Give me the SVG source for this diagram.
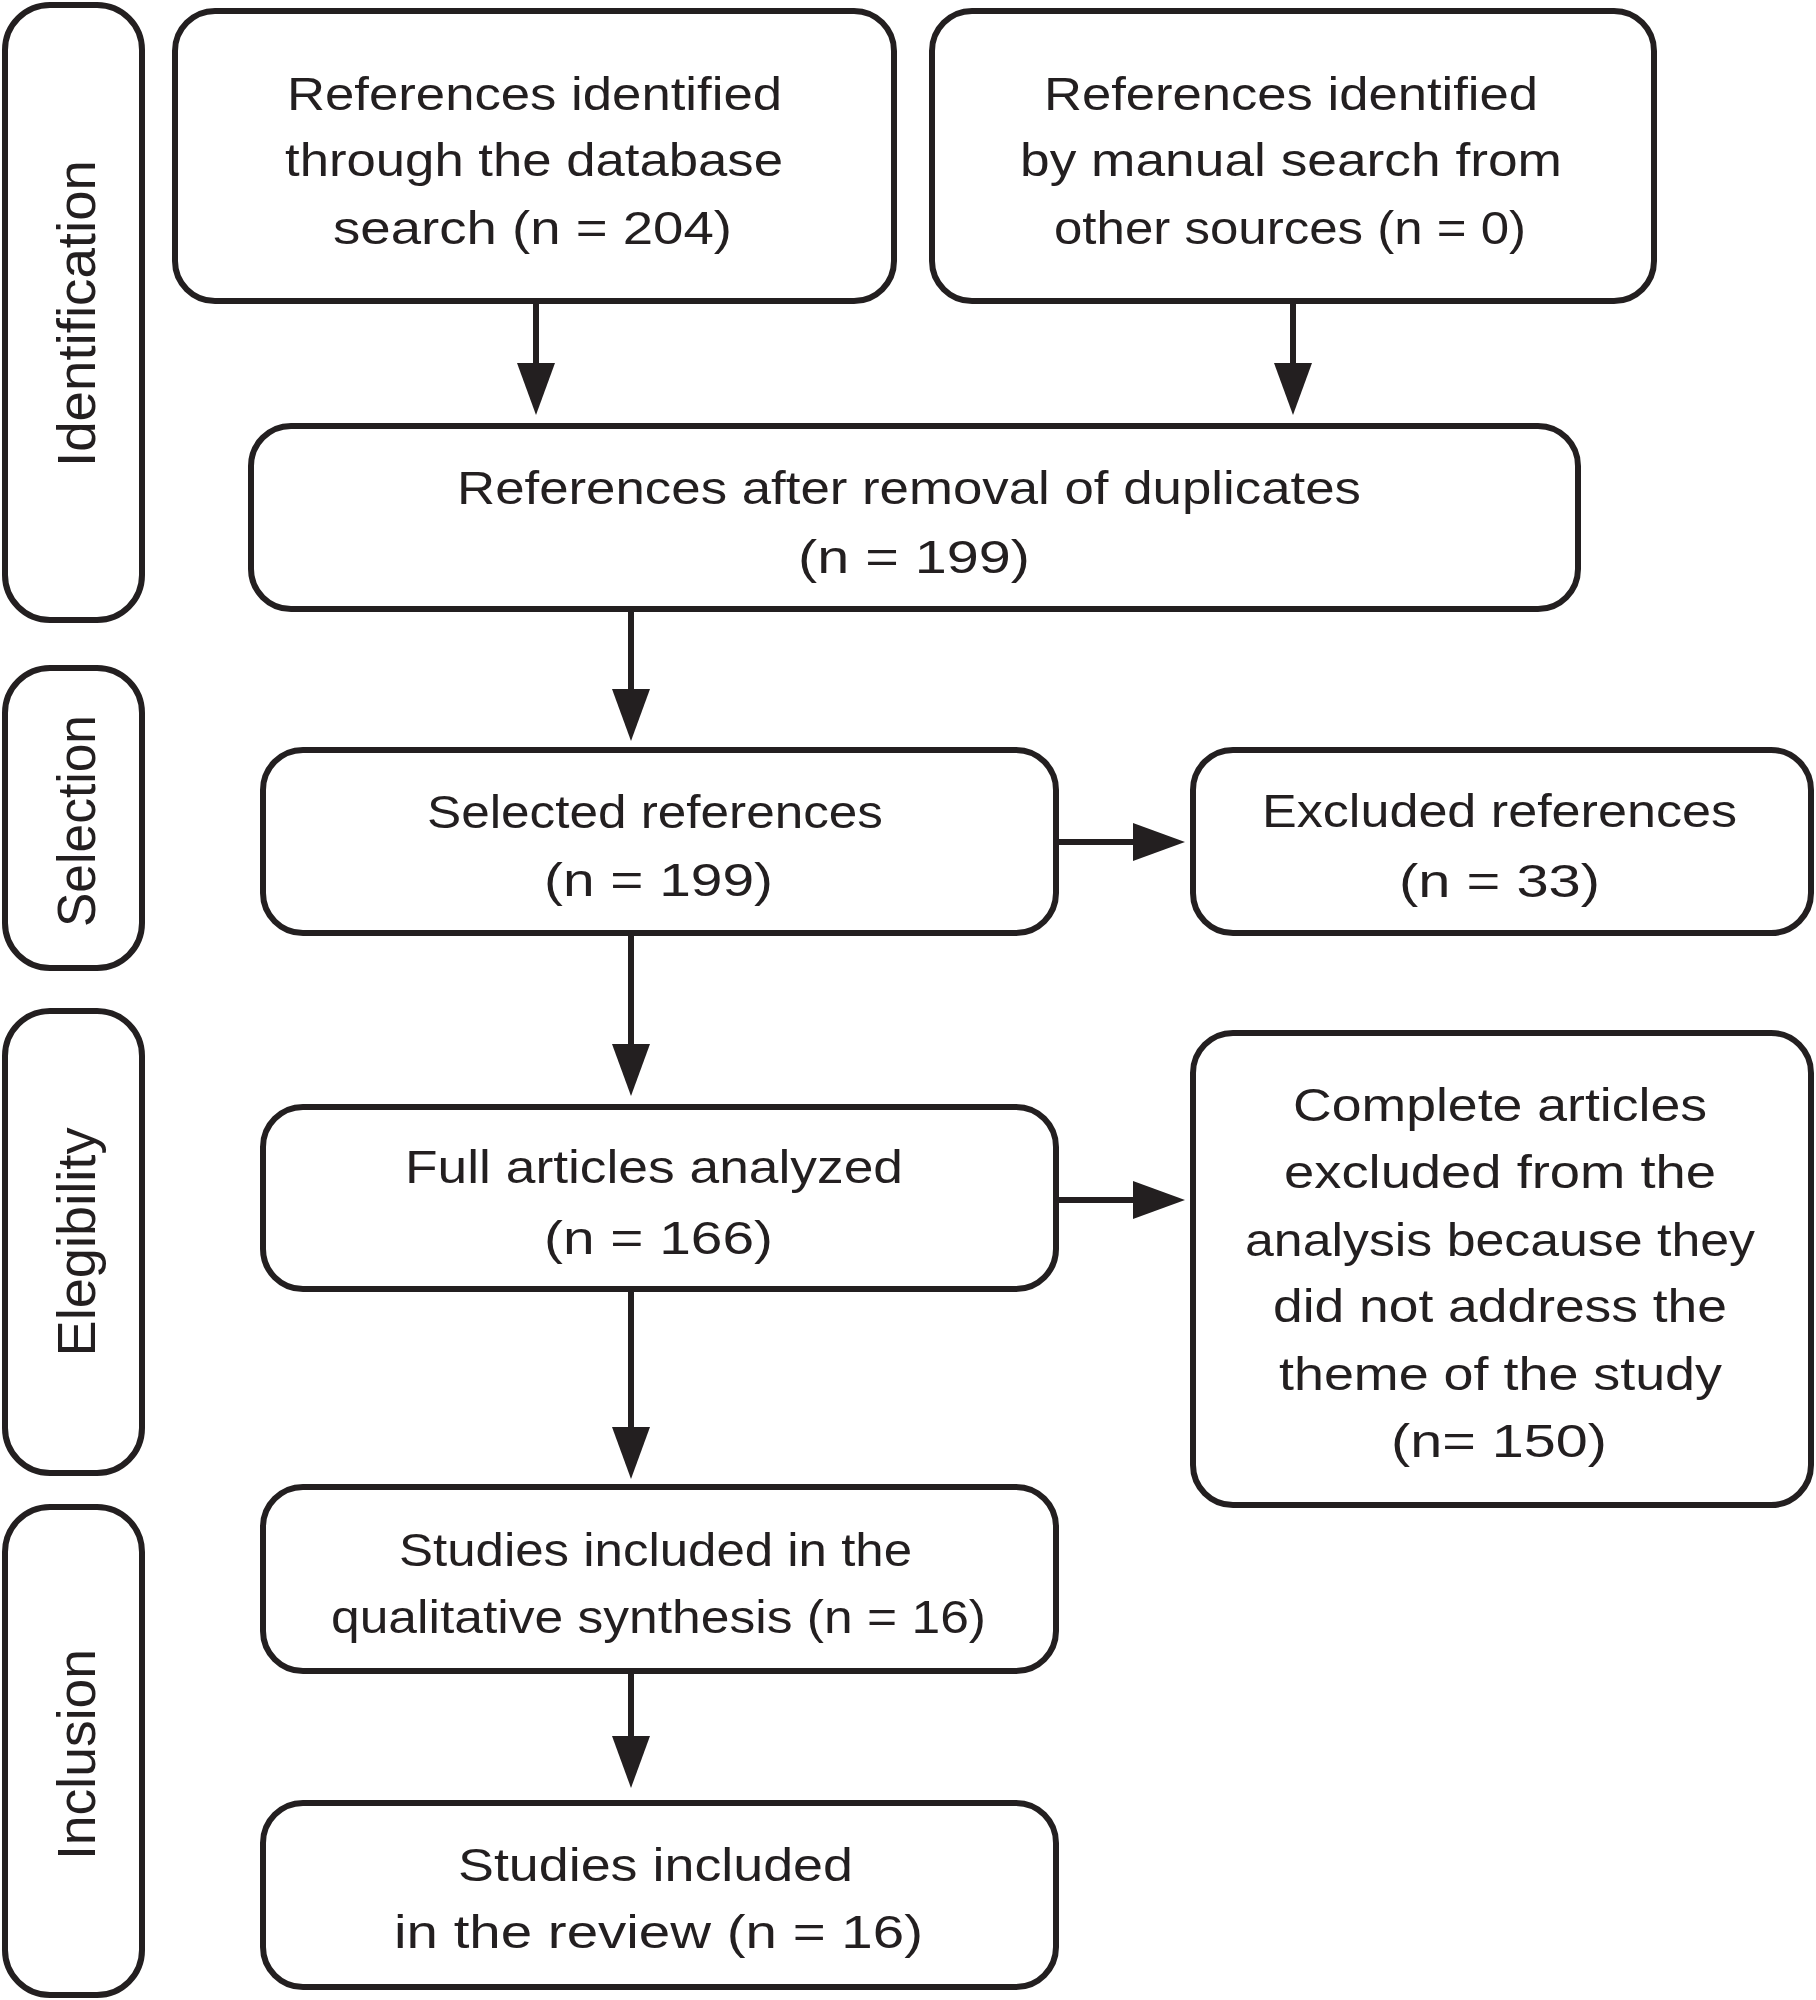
<svg xmlns="http://www.w3.org/2000/svg" width="1816" height="2000" viewBox="0 0 1816 2000">
<style>
.box{fill:#fff;stroke:#231f20;stroke-width:6}
.side{fill:#fff;stroke:#231f20;stroke-width:6}
.t{font-family:"Liberation Sans",Arial,sans-serif;font-size:46px;fill:#231f20;text-anchor:middle}
.s{font-family:"Liberation Sans",Arial,sans-serif;font-size:54px;fill:#231f20;text-anchor:middle}
.c{stroke:#231f20;stroke-width:6;fill:none;marker-end:url(#ah)}
</style>
<defs>
<marker id="ah" viewBox="0 0 52 38" refX="32" refY="19" markerWidth="52" markerHeight="38" markerUnits="userSpaceOnUse" orient="auto">
<path d="M0,0 L52,19 L0,38 Z" fill="#231f20"/>
</marker>
</defs>
<rect width="1816" height="2000" fill="#fff"/>
<g id="stage-identification">
<rect class="side" x="5" y="5" width="137" height="615" rx="45"/>
<text class="s" transform="translate(95,313.5) rotate(-90)" textLength="307" lengthAdjust="spacingAndGlyphs">Identification</text>
</g>
<g id="stage-selection">
<rect class="side" x="5" y="668" width="137" height="300" rx="45"/>
<text class="s" transform="translate(95,821) rotate(-90)" textLength="212" lengthAdjust="spacingAndGlyphs">Selection</text>
</g>
<g id="stage-elegibility">
<rect class="side" x="5" y="1011" width="137" height="462" rx="45"/>
<text class="s" transform="translate(95,1242) rotate(-90)" textLength="229" lengthAdjust="spacingAndGlyphs">Elegibility</text>
</g>
<g id="stage-inclusion">
<rect class="side" x="5" y="1507" width="137" height="488" rx="45"/>
<text class="s" transform="translate(95,1754.5) rotate(-90)" textLength="211" lengthAdjust="spacingAndGlyphs">Inclusion</text>
</g>
<g id="connectors">
<line class="c" x1="536" y1="301" x2="536" y2="395"/>
<line class="c" x1="1293" y1="301" x2="1293" y2="395"/>
<line class="c" x1="631" y1="609" x2="631" y2="721"/>
<line class="c" x1="631" y1="933" x2="631" y2="1076"/>
<line class="c" x1="631" y1="1289" x2="631" y2="1459"/>
<line class="c" x1="631" y1="1671" x2="631" y2="1768"/>
<line class="c" x1="1056" y1="842" x2="1165" y2="842"/>
<line class="c" x1="1056" y1="1200" x2="1165" y2="1200"/>
</g>
<g id="n1">
<rect class="box" x="175" y="11" width="719" height="290" rx="40"/>
<text class="t" x="534.5" y="110" textLength="495" lengthAdjust="spacingAndGlyphs">References identified</text>
<text class="t" x="534" y="176" textLength="498" lengthAdjust="spacingAndGlyphs">through the database</text>
<text class="t" x="532.5" y="244" textLength="399" lengthAdjust="spacingAndGlyphs">search (n = 204)</text>
</g>
<g id="n2">
<rect class="box" x="932" y="11" width="722" height="290" rx="40"/>
<text class="t" x="1291" y="110" textLength="494" lengthAdjust="spacingAndGlyphs">References identified</text>
<text class="t" x="1291" y="176" textLength="542" lengthAdjust="spacingAndGlyphs">by manual search from</text>
<text class="t" x="1290" y="244" textLength="472" lengthAdjust="spacingAndGlyphs">other sources (n = 0)</text>
</g>
<g id="n3">
<rect class="box" x="251" y="426" width="1327" height="183" rx="40"/>
<text class="t" x="909" y="504" textLength="904" lengthAdjust="spacingAndGlyphs">References after removal of duplicates</text>
<text class="t" x="914" y="573" textLength="232" lengthAdjust="spacingAndGlyphs">(n = 199)</text>
</g>
<g id="n4">
<rect class="box" x="263" y="750" width="793" height="183" rx="40"/>
<text class="t" x="655" y="828" textLength="456" lengthAdjust="spacingAndGlyphs">Selected references</text>
<text class="t" x="658.5" y="896" textLength="229" lengthAdjust="spacingAndGlyphs">(n = 199)</text>
</g>
<g id="n5">
<rect class="box" x="1193" y="750" width="618" height="183" rx="40"/>
<text class="t" x="1499.5" y="827" textLength="475" lengthAdjust="spacingAndGlyphs">Excluded references</text>
<text class="t" x="1499.5" y="897" textLength="201" lengthAdjust="spacingAndGlyphs">(n = 33)</text>
</g>
<g id="n6">
<rect class="box" x="263" y="1107" width="793" height="182" rx="40"/>
<text class="t" x="654" y="1183" textLength="498" lengthAdjust="spacingAndGlyphs">Full articles analyzed</text>
<text class="t" x="658.5" y="1254" textLength="229" lengthAdjust="spacingAndGlyphs">(n = 166)</text>
</g>
<g id="n7">
<rect class="box" x="1193" y="1033" width="618" height="472" rx="40"/>
<text class="t" x="1500" y="1121" textLength="414" lengthAdjust="spacingAndGlyphs">Complete articles</text>
<text class="t" x="1500" y="1188" textLength="432" lengthAdjust="spacingAndGlyphs">excluded from the</text>
<text class="t" x="1500" y="1256" textLength="510" lengthAdjust="spacingAndGlyphs">analysis because they</text>
<text class="t" x="1500" y="1322" textLength="454" lengthAdjust="spacingAndGlyphs">did not address the</text>
<text class="t" x="1500.5" y="1390" textLength="443" lengthAdjust="spacingAndGlyphs">theme of the study</text>
<text class="t" x="1499" y="1457" textLength="216" lengthAdjust="spacingAndGlyphs">(n= 150)</text>
</g>
<g id="n8">
<rect class="box" x="263" y="1487" width="793" height="184" rx="40"/>
<text class="t" x="655.5" y="1566" textLength="513" lengthAdjust="spacingAndGlyphs">Studies included in the</text>
<text class="t" x="658.5" y="1633" textLength="655" lengthAdjust="spacingAndGlyphs">qualitative synthesis (n = 16)</text>
</g>
<g id="n9">
<rect class="box" x="263" y="1803" width="793" height="184" rx="40"/>
<text class="t" x="655.5" y="1881" textLength="395" lengthAdjust="spacingAndGlyphs">Studies included</text>
<text class="t" x="658.5" y="1948" textLength="529" lengthAdjust="spacingAndGlyphs">in the review (n = 16)</text>
</g>
</svg>
